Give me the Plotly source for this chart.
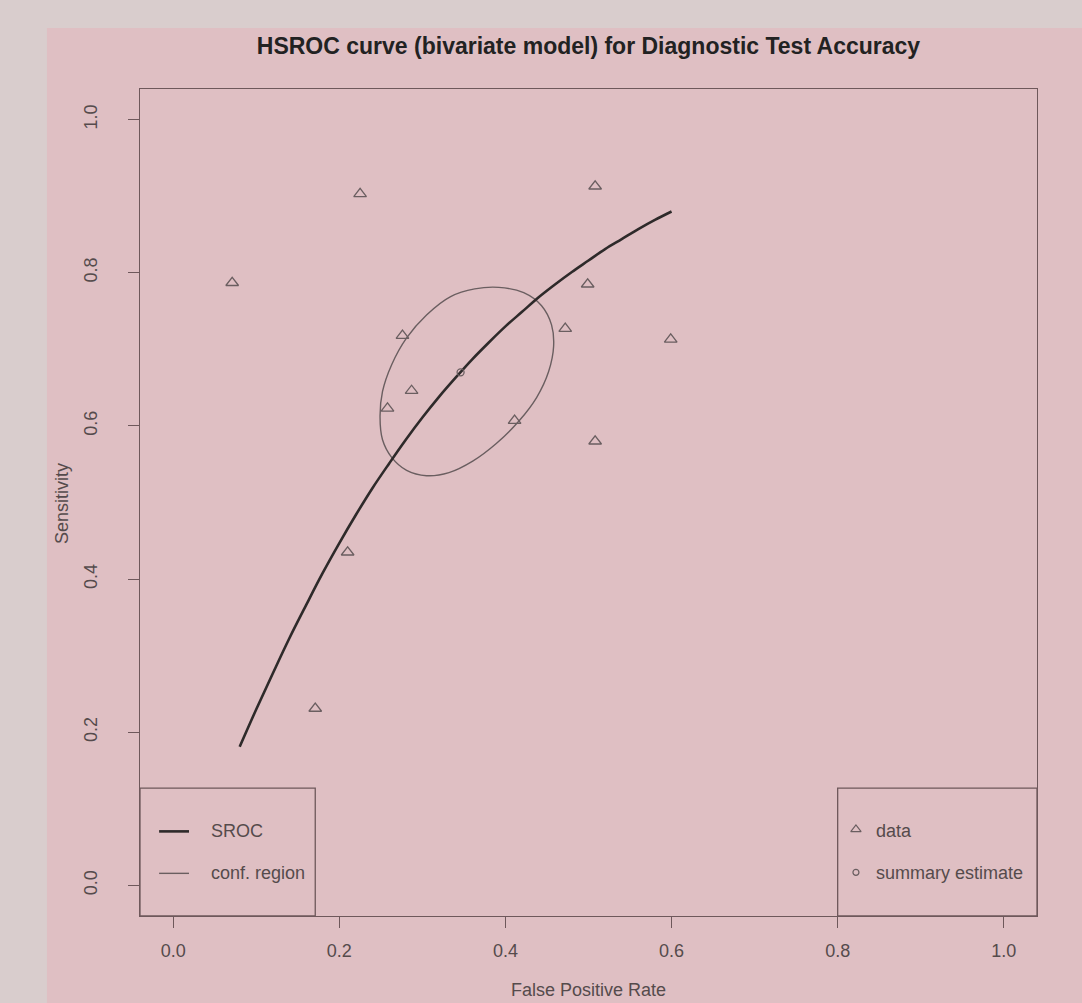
import plotly.graph_objects as go

# ---- data ----
data_fpr = [0.071, 0.225, 0.508, 0.276, 0.287, 0.258, 0.472, 0.499, 0.599, 0.411, 0.508, 0.210, 0.171]
data_sens = [0.787, 0.903, 0.913, 0.718, 0.646, 0.623, 0.727, 0.785, 0.713, 0.607, 0.580, 0.435, 0.231]

summary_fpr = [0.346]
summary_sens = [0.670]

sroc_fpr = [0.08, 0.10, 0.12, 0.14, 0.16, 0.18, 0.20, 0.22, 0.24, 0.26, 0.28, 0.30, 0.32, 0.34,
            0.36, 0.38, 0.40, 0.42, 0.44, 0.46, 0.48, 0.50, 0.52, 0.54, 0.56, 0.58, 0.60]
sroc_sens = [0.181, 0.230, 0.277, 0.323, 0.366, 0.408, 0.447, 0.484, 0.519, 0.551, 0.582, 0.611,
             0.638, 0.663, 0.687, 0.709, 0.730, 0.749, 0.768, 0.785, 0.801, 0.816, 0.831, 0.844,
             0.857, 0.869, 0.880]

conf_fpr = [0.392, 0.422, 0.4435, 0.4555, 0.458, 0.452, 0.4375, 0.416, 0.389, 0.3606, 0.332, 0.305,
            0.281, 0.263, 0.252, 0.249, 0.252, 0.263, 0.281, 0.305, 0.334, 0.363, 0.392]
conf_sens = [0.781, 0.774, 0.757, 0.732, 0.704, 0.671, 0.637, 0.606, 0.577, 0.554, 0.539, 0.535,
             0.542, 0.559, 0.582, 0.612, 0.645, 0.680, 0.715, 0.745, 0.769, 0.779, 0.781]

tick_vals = [0.0, 0.2, 0.4, 0.6, 0.8, 1.0]
tick_text = ["0.0", "0.2", "0.4", "0.6", "0.8", "1.0"]

title_text = "HSROC curve (bivariate model) for Diagnostic Test Accuracy"
x_title = "False Positive Rate"
y_title = "Sensitivity"

# ---- styles ----
FONT = "Liberation Sans, Arial, sans-serif"
FRAME = "#6e585b"
DARK = "#2e2a2a"
GRAY = "#6a5e60"
TXT = "#554b4c"
OUTER_BG = "#d9cdcd"
INNER_BG = "#dfbfc3"
FS = 18

fig = go.Figure()

fig.add_trace(go.Scatter(x=conf_fpr, y=conf_sens, mode="lines",
                         line=dict(color=GRAY, width=1.4, shape="spline", smoothing=1.0),
                         showlegend=False, hoverinfo="skip"))
fig.add_trace(go.Scatter(x=sroc_fpr, y=sroc_sens, mode="lines",
                         line=dict(color=DARK, width=2.6, shape="spline"),
                         showlegend=False))
fig.add_trace(go.Scatter(x=data_fpr, y=data_sens, mode="markers",
                         marker=dict(symbol="triangle-up-open", size=11, color=GRAY,
                                     line=dict(width=1.3, color=GRAY)),
                         showlegend=False))
fig.add_trace(go.Scatter(x=summary_fpr, y=summary_sens, mode="markers",
                         marker=dict(symbol="circle-open", size=7, color=GRAY,
                                     line=dict(width=1.3, color=GRAY)),
                         showlegend=False))

# legend symbols (right box)
fig.add_trace(go.Scatter(x=[0.822], y=[0.073], mode="markers",
                         marker=dict(symbol="triangle-up-open", size=9, color=GRAY,
                                     line=dict(width=1.2, color=GRAY)),
                         showlegend=False, cliponaxis=False, hoverinfo="skip"))
fig.add_trace(go.Scatter(x=[0.822], y=[0.017], mode="markers",
                         marker=dict(symbol="circle-open", size=6, color=GRAY,
                                     line=dict(width=1.2, color=GRAY)),
                         showlegend=False, cliponaxis=False, hoverinfo="skip"))

shapes = [
    # inner panel background
    dict(type="rect", xref="paper", yref="paper", x0=-0.1037, x1=1.2, y0=-0.3, y1=1.0738,
         fillcolor=INNER_BG, line=dict(width=0), layer="below"),
    # legend boxes
    dict(type="rect", xref="x", yref="y", x0=-0.04, x1=0.171, y0=-0.04, y1=0.127,
         line=dict(color=FRAME, width=1.3)),
    dict(type="rect", xref="x", yref="y", x0=0.800, x1=1.04, y0=-0.04, y1=0.127,
         line=dict(color=FRAME, width=1.3)),
    # legend lines
    dict(type="line", xref="x", yref="y", x0=-0.017, x1=0.019, y0=0.0705, y1=0.0705,
         line=dict(color=DARK, width=2.6)),
    dict(type="line", xref="x", yref="y", x0=-0.017, x1=0.019, y0=0.0157, y1=0.0157,
         line=dict(color=GRAY, width=1.4)),
]

annotations = [
    dict(text=x_title, xref="paper", yref="paper", x=0.5, y=-0.0895, showarrow=False,
         yanchor="middle", xanchor="center", font=dict(family=FONT, size=FS, color=TXT)),
    dict(text=y_title, xref="paper", yref="paper", x=-0.087, y=0.4994, showarrow=False,
         textangle=-90, xanchor="center", yanchor="middle", font=dict(family=FONT, size=FS, color=TXT)),
    dict(text="SROC", xref="x", yref="y", x=0.0433, y=0.0705, showarrow=False,
         xanchor="left", yanchor="middle", font=dict(family=FONT, size=FS, color=TXT)),
    dict(text="conf. region", xref="x", yref="y", x=0.0433, y=0.0157, showarrow=False,
         xanchor="left", yanchor="middle", font=dict(family=FONT, size=FS, color=TXT)),
    dict(text="data", xref="x", yref="y", x=0.844, y=0.0705, showarrow=False,
         xanchor="left", yanchor="middle", font=dict(family=FONT, size=FS, color=TXT)),
    dict(text="summary estimate", xref="x", yref="y", x=0.844, y=0.0157, showarrow=False,
         xanchor="left", yanchor="middle", font=dict(family=FONT, size=FS, color=TXT)),
]

axis_common = dict(range=[-0.04, 1.04], tickvals=tick_vals, ticktext=tick_text,
                   showgrid=False, zeroline=False, showline=True, mirror=True,
                   linecolor=FRAME, linewidth=1.3, ticks="outside", ticklen=11,
                   tickcolor=FRAME, tickwidth=1.3,
                   tickfont=dict(family=FONT, size=FS, color=TXT))

fig.update_layout(
    width=1082, height=1003, autosize=False,
    margin=dict(l=140, r=45, t=89, b=87),
    paper_bgcolor=OUTER_BG, plot_bgcolor="rgba(0,0,0,0)",
    title=dict(text="<b>" + title_text + "</b>", x=0.5, xref="paper", y=1 - 46 / 1003,
               yref="container", yanchor="middle", xanchor="center",
               font=dict(family=FONT, size=23, color="#222222")),
    xaxis=dict(**axis_common, ticklabelstandoff=7),
    yaxis=dict(**axis_common, tickangle=-90, ticklabelstandoff=24),
    shapes=shapes, annotations=annotations, showlegend=False,
)

post = ("document.body.style.margin='0';document.body.style.padding='0';"
        "document.body.style.overflow='hidden';document.body.style.background='" + OUTER_BG + "';")
fig.write_html("out.html", post_script=post, config={"displayModeBar": False})
